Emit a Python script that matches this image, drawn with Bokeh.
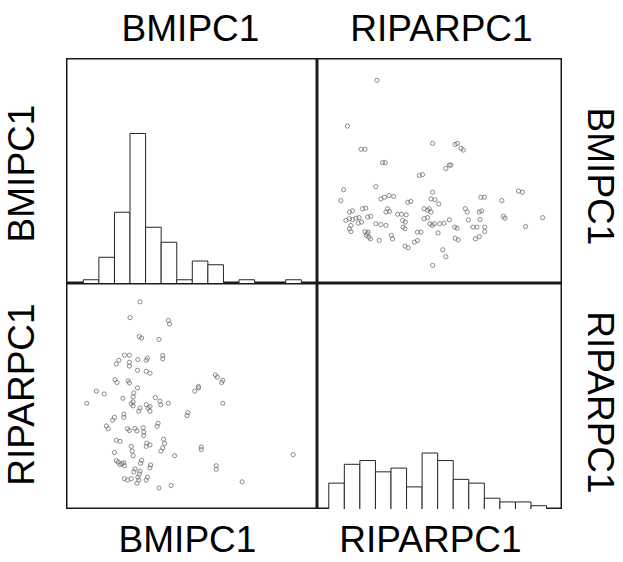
import math
from bokeh.plotting import figure
from bokeh.layouts import column, row
from bokeh.models import Label, Range1d
from bokeh.embed import file_html
from bokeh.resources import INLINE

# ---------------- data ----------------
var_names = ["BMIPC1", "RIPARPC1"]

bmi_edges = [-1.5, -1.0, -0.5, 0.0, 0.5, 1.0, 1.5, 2.0, 2.5, 3.0, 3.5, 4.0, 4.5, 5.0, 5.5]
bmi_counts = [1, 7, 19, 40, 15, 11, 1, 6, 5, 0, 1, 0, 0, 1]

ripar_edges = [-2.0, -1.6, -1.2, -0.8, -0.4, 0.0, 0.4, 0.8, 1.2, 1.6, 2.0, 2.4, 2.8, 3.2, 3.6]
ripar_counts = [7, 12, 13, 10, 11, 6, 15, 13, 8, 7, 3, 2, 2, 1]

ripar = [-0.76, -1.52, -1.17, -1.07, -0.62, -0.55, 0.67, 1.25, 1.31, 1.40,
         1.46, 1.01, 1.10, 1.14, 0.33, 0.41, -1.62, -1.69, -0.79, -0.66,
         -0.57, -0.45, -0.33, 0.03, 0.11, 0.67, 0.63, 0.73, 0.83, 1.91,
         2.00, 2.45, 2.88, 2.98, -1.47, -1.39, -1.13, -1.05, -1.56, -1.47,
         -1.39, -1.30, -1.22, -1.43, -1.47, -1.43, -1.24, -1.16, -1.00, -0.92,
         -1.07, -1.01, -0.97, -1.04, -0.93, -0.99, -0.70, -0.79, -0.66, -0.53,
         -0.49, -0.53, -0.44, -0.23, -0.13, -0.01, -0.10, -0.03, -0.09, -0.04,
         -0.39, -0.36, -0.04, 0.04, 0.20, 0.28, 0.28, 0.37, 0.45, 0.54,
         0.58, 0.63, 0.45, 0.54, 0.60, 0.66, 0.71, 0.85, 0.96, 1.10,
         0.67, 0.93, 1.01, 1.51, 1.56, 1.87, 1.93, 1.59, 1.89, 1.24,
         1.30, 1.71, 1.81, 2.01, 2.01, 1.25, 1.33, 1.77, 1.87, 2.49,
         2.53, 3.06, 3.50, 0.81]

bmi = [5.24, 3.60, 2.77, 2.77, 2.29, 2.29, 2.98, 2.94, 2.98, 2.80,
       2.74, 2.08, 2.20, 2.20, 1.83, 1.86, 1.32, 0.93, 1.43, 0.99,
       1.05, 1.11, 1.08, 0.87, 0.90, 1.23, 0.99, 0.96, 0.81, 1.05,
       1.05, 0.93, 1.27, 1.23, 0.52, 0.56, 0.64, 0.66, 0.22, 0.28,
       0.25, 0.30, 0.32, 0.04, -0.08, -0.18, 0.12, 0.16, 0.34, 0.37,
       -0.18, -0.26, -0.38, -0.32, -0.44, -0.20, -0.50, 0.10, 0.07, 0.04,
       0.64, 0.52, 0.54, 0.44, 0.44, 0.42, 0.22, 0.16, -0.02, -0.08,
       -0.32, -0.44, -0.70, -0.76, -0.56, -0.50, -0.20, -0.20, 0.64, 0.58,
       0.64, 0.52, 0.28, 0.32, 0.10, 0.04, 0.10, 0.10, 0.12, 0.24,
       -1.39, -0.83, -1.08, 0.64, 0.52, 0.52, 0.56, 0.24, 0.25, -0.02,
       -0.06, -0.02, -0.02, -0.02, -0.18, -0.42, -0.48, -0.44, -0.36, 0.37,
       0.30, 0.00, 0.32, -0.23]

bmi_range = (-2.04, 6.02)
ripar_range = (-2.29, 4.01)
count_range = (0, 60)

# ---------------- layout constants (px) ----------------
FRAME_W = [251, 245]
FRAME_H = [225, 226]
LEFT_W, RIGHT_W, TOP_H, BOTTOM_H = 66, 61, 58, 51
TOTAL_W = LEFT_W + sum(FRAME_W) + RIGHT_W
MID_H = sum(FRAME_H)

FONT = "Liberation Sans"
FSIZE = "37px"


def bare_figure(w, h, xr, yr):
    p = figure(width=w, height=h, x_range=Range1d(*xr), y_range=Range1d(*yr),
               output_backend="svg", toolbar_location=None, tools="",
               x_axis_location=None, y_axis_location=None, min_border=0,
               min_border_left=0, min_border_right=0,
               min_border_top=0, min_border_bottom=0)
    p.xgrid.visible = False
    p.ygrid.visible = False
    p.background_fill_color = "white"
    p.border_fill_color = "white"
    return p


def make_panel(ci, ri, xr, yr):
    p = bare_figure(FRAME_W[ci], FRAME_H[ri], xr, yr)
    p.outline_line_color = "#1a1a1a"
    p.outline_line_width = 2
    return p


def make_strip(w, h):
    p = bare_figure(w, h, (0, w), (0, h))
    p.outline_line_color = None
    return p


def add_label(p, text, x, y, angle=0.0):
    p.add_layout(Label(x=x, y=y, text=text, angle=angle,
                       text_font=FONT, text_font_size=FSIZE,
                       text_color="black", text_align="center",
                       text_baseline="middle"))


def add_hist(p, edges, counts):
    p.quad(left=edges[:-1], right=edges[1:], bottom=[0] * len(counts), top=counts,
           fill_color="white", line_color="#262626", line_width=1)


def add_points(p, xs, ys):
    p.scatter(xs, ys, marker="circle", size=4.2, fill_color=None,
              line_color="#707070", line_width=0.8)


# panels
p11 = make_panel(0, 0, bmi_range, count_range)
add_hist(p11, bmi_edges, bmi_counts)

p12 = make_panel(1, 0, ripar_range, bmi_range)
add_points(p12, ripar, bmi)

p21 = make_panel(0, 1, bmi_range, ripar_range)
add_points(p21, bmi, ripar)

p22 = make_panel(1, 1, ripar_range, count_range)
add_hist(p22, ripar_edges, ripar_counts)

# label strips
top = make_strip(TOTAL_W, TOP_H)
add_label(top, var_names[0], 190, 30)
add_label(top, var_names[1], 441, 30)

bottom = make_strip(TOTAL_W, BOTTOM_H)
add_label(bottom, var_names[0], 187, 21)
add_label(bottom, var_names[1], 430, 21)

left = make_strip(LEFT_W, MID_H)
add_label(left, var_names[0], 21, 336, math.pi / 2)
add_label(left, var_names[1], 21, 115, math.pi / 2)

right = make_strip(RIGHT_W, MID_H)
add_label(right, var_names[0], 38, 333, -math.pi / 2)
add_label(right, var_names[1], 38, 107, -math.pi / 2)

grid = column(row(p11, p12, spacing=0), row(p21, p22, spacing=0), spacing=0)
middle = row(left, grid, right, spacing=0)
layout = column(top, middle, bottom, spacing=0)

open("out.html", "w").write(file_html(layout, INLINE))
